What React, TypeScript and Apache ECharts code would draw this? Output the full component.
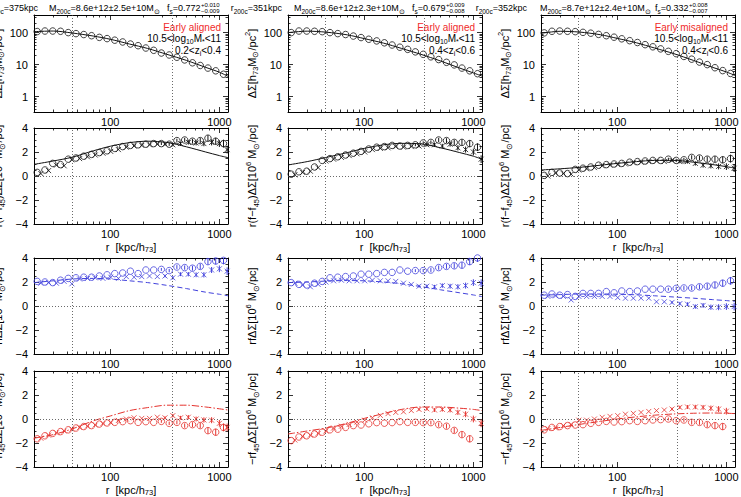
import React, { useEffect, useRef } from 'react';
import * as echarts from 'echarts';

// ---------------- data ----------------
const R_BINS = [21.4, 25.2, 29.7, 35.0, 41.2, 48.5, 57.2, 67.4, 79.4, 93.5, 110, 130, 153, 180, 212, 250, 294, 347, 408, 481, 567, 668, 786, 926, 1091];
const MODEL_R = [20, 30, 45, 70, 100, 150, 220, 330, 500, 750, 1000, 1200];
const X_MAJOR_TICKS = [100, 1000];
const X_MINOR_TICKS = [30, 40, 50, 60, 70, 80, 90, 200, 300, 400, 500, 600, 700, 800, 900];
const Y_LOG_MAJOR = [1, 10, 100];
const Y_LOG_MINOR = [0.4, 0.5, 0.6, 0.7, 0.8, 0.9, 2, 3, 4, 5, 6, 7, 8, 9, 20, 30, 40, 50, 60, 70, 80, 90, 200, 300];
const Y_LIN_MAJOR = [-4, -2, 0, 2, 4];
const Y_LIN_MINOR = [-3.5, -3, -2.5, -1.5, -1, -0.5, 0.5, 1, 1.5, 2.5, 3, 3.5];

const R200 = [375, 351, 352];
const R_INNER = [45, 44, 44];
const M200_TEXT = ['8.6e+12±2.5e+10', '8.6e+12±2.3e+10', '8.7e+12±2.4e+10'];
const FS = ['0.772', '0.679', '0.332'];
const FS_UP = ['0.010', '0.009', '0.008'];
const FS_DN = ['0.009', '0.008', '0.007'];
const SAMPLE_LABEL = ['Early aligned', 'Early aligned', 'Early misaligned'];
const Z_LO = ['0.2', '0.4', '0.4'];
const Z_HI = ['0.4', '0.6', '0.6'];

const ERR = [0.02, 0.02, 0.02, 0.02, 0.02, 0.02, 0.03, 0.03, 0.03, 0.04, 0.04, 0.05, 0.06, 0.07, 0.08, 0.1, 0.12, 0.14, 0.16, 0.18, 0.2, 0.22, 0.25, 0.28, 0.32];

// row 1: Delta Sigma
const SIGMA_CIRC_1 = [108, 112, 112, 110, 100, 93, 87, 80, 71, 65, 58, 51, 44, 39, 33, 28, 23, 20, 17, 14, 11.4, 9.4, 7.8, 6.4, 5.0];
const SIGMA_CIRC_2 = [100, 112, 112, 110, 107, 100, 93, 87, 78, 70, 62, 55, 48, 41, 35, 30, 25, 21, 17.5, 14.4, 11.8, 9.8, 7.8, 6.4, 5.2];
const SIGMA_CIRC_3 = [98, 110, 112, 110, 107, 102, 96, 88, 80, 72, 64, 56, 49, 42, 36, 31, 26, 22, 18, 14.8, 12, 10, 8, 6.5, 5.3];
const SIGMA_MODEL_1 = [107, 112, 97, 78, 62, 44, 32, 21, 13.5, 8.2, 5.8, 4.3];
const SIGMA_MODEL_2 = [100, 111, 103, 85, 65, 47, 32, 21, 13, 7.8, 5.5, 4.4];
const SIGMA_MODEL_3 = [95, 110, 104, 86, 66, 48, 33, 22, 13.5, 8.2, 5.9, 4.6];

// row 2: r(f - f45) Delta Sigma
const FDIFF_CIRC_1 = [0.3, 0.5, 1.05, 0.95, 1.4, 1.5, 1.65, 1.8, 1.95, 2.1, 2.3, 2.45, 2.55, 2.6, 2.65, 2.7, 2.7, 2.65, 2.95, 3.0, 2.9, 2.95, 3.15, 2.9, 2.7];
const FDIFF_CROSS_1 = [0.2, 0.45, 0.9, 0.85, 1.35, 1.45, 1.6, 1.75, 1.9, 2.05, 2.2, 2.4, 2.5, 2.55, 2.6, 2.65, 2.65, 2.6, 2.7, 2.8, 2.75, 2.7, 2.8, 2.7, 2.2];
const FDIFF_MODEL_1 = [0.97, 1.25, 1.57, 2.1, 2.48, 2.78, 2.9, 2.8, 2.43, 2.0, 1.7, 1.53];
const FDIFF_CIRC_2 = [0.15, 0.35, 0.4, 0.75, 1.3, 1.45, 1.6, 1.75, 1.9, 2.05, 2.25, 2.4, 2.45, 2.55, 2.5, 2.55, 2.6, 2.75, 2.8, 3.0, 2.95, 2.8, 2.8, 2.7, 2.4];
const FDIFF_CROSS_2 = [0.1, 0.3, 0.4, 0.7, 1.25, 1.4, 1.55, 1.7, 1.85, 2.0, 2.2, 2.3, 2.35, 2.45, 2.4, 2.45, 2.5, 2.6, 2.6, 2.5, 2.65, 2.35, 2.2, 2.0, 1.4];
const FDIFF_MODEL_2 = [0.92, 1.2, 1.55, 1.95, 2.3, 2.6, 2.72, 2.68, 2.35, 1.95, 1.65, 1.4];
const FDIFF_CIRC_3 = [0.05, 0.3, 0.25, 0.2, 0.55, 0.65, 0.75, 0.9, 0.95, 1.0, 1.05, 1.15, 1.2, 1.25, 1.3, 1.3, 1.4, 1.3, 1.35, 1.55, 1.5, 1.4, 1.4, 1.35, 1.45];
const FDIFF_CROSS_3 = [0.0, 0.25, 0.2, 0.15, 0.5, 0.6, 0.7, 0.85, 0.9, 0.95, 1.0, 1.1, 1.15, 1.2, 1.25, 1.2, 1.3, 1.2, 1.2, 1.05, 0.9, 0.85, 0.8, 0.78, 0.65];
const FDIFF_MODEL_3 = [0.5, 0.6, 0.72, 0.9, 1.05, 1.2, 1.3, 1.3, 1.15, 0.95, 0.78, 0.65];

// row 3: r f Delta Sigma
const FTOT_CIRC_1 = [2.05, 2.0, 1.95, 2.15, 2.3, 2.35, 2.4, 2.4, 2.5, 2.6, 2.7, 2.75, 2.9, 2.7, 3.0, 3.0, 3.05, 2.95, 3.25, 3.2, 3.15, 3.3, 3.7, 3.75, 3.8];
const FTOT_CROSS_1 = [1.9, 1.95, 1.9, 2.05, 1.85, 2.25, 2.3, 2.35, 2.3, 2.4, 2.3, 2.45, 2.4, 2.45, 2.5, 2.45, 2.5, 2.35, 2.65, 2.65, 2.6, 2.6, 3.0, 3.1, 2.9];
const FTOT_MODEL_1 = [1.95, 2.1, 2.25, 2.3, 2.25, 2.1, 1.95, 1.72, 1.45, 1.15, 0.98, 0.85];
const FTOT_CIRC_2 = [1.95, 1.8, 1.75, 1.9, 2.05, 2.35, 2.4, 2.45, 2.5, 2.65, 2.65, 2.7, 2.8, 2.8, 3.0, 2.9, 2.95, 2.95, 3.0, 3.2, 3.3, 3.35, 3.4, 3.7, 4.0];
const FTOT_CROSS_2 = [1.9, 1.75, 1.6, 1.8, 2.0, 2.1, 2.15, 2.1, 2.1, 2.1, 2.15, 2.1, 2.1, 2.05, 1.9, 1.8, 1.65, 1.65, 1.6, 1.7, 1.65, 1.6, 1.7, 1.95, 1.9];
const FTOT_MODEL_2 = [1.95, 2.0, 2.08, 2.12, 2.1, 2.0, 1.85, 1.62, 1.35, 1.1, 0.92, 0.78];
const FTOT_CIRC_3 = [0.9, 1.0, 0.9, 0.95, 0.8, 1.05, 1.05, 1.05, 1.2, 1.1, 1.25, 1.2, 1.25, 1.4, 1.4, 1.4, 1.4, 1.47, 1.5, 1.5, 1.6, 1.65, 1.75, 1.9, 2.1];
const FTOT_CROSS_3 = [0.8, 0.85, 0.8, 0.5, 0.8, 0.8, 0.8, 0.8, 0.8, 0.7, 0.65, 0.65, 0.65, 0.65, 0.35, 0.35, 0.3, 0.2, 0.15, -0.05, 0.05, -0.1, -0.1, -0.05, -0.05];
const FTOT_MODEL_3 = [0.9, 0.95, 1.0, 1.0, 0.98, 0.93, 0.85, 0.75, 0.65, 0.53, 0.45, 0.38];

// row 4: -r f45 Delta Sigma
const F45_CIRC_1 = [-1.65, -1.4, -1.2, -1.05, -0.9, -0.75, -0.63, -0.55, -0.42, -0.33, -0.28, -0.22, -0.14, -0.28, -0.22, -0.28, -0.2, -0.36, -0.28, -0.55, -0.47, -0.55, -0.97, -1.1, -0.7];
const F45_CROSS_1 = [-1.6, -1.35, -1.15, -1.0, -0.85, -0.7, -0.6, -0.5, -0.38, -0.3, -0.12, 0.0, 0.1, 0.05, 0.05, 0.15, 0.1, 0.28, 0.1, 0.15, 0.0, -0.08, -0.1, -0.36, -0.7];
const F45_MODEL_1 = [-1.6, -1.3, -0.82, -0.15, 0.25, 0.7, 0.95, 1.15, 1.15, 1.0, 0.85, 0.75];
const F45_CIRC_2 = [-1.8, -1.5, -1.4, -1.25, -1.1, -0.9, -0.85, -0.7, -0.55, -0.5, -0.4, -0.3, -0.35, -0.3, -0.22, -0.28, -0.28, -0.3, -0.3, -0.47, -0.6, -0.95, -1.3, -1.65, null];
const F45_CROSS_2 = [-1.75, -1.45, -1.35, -1.2, -1.0, -0.75, -0.6, -0.45, -0.25, -0.1, 0.1, 0.3, 0.45, 0.55, 0.6, 0.7, 0.8, 0.85, 0.75, 0.8, 0.75, 0.55, 0.4, 0.0, -0.36];
const F45_MODEL_2 = [-1.25, -1.0, -0.75, -0.35, 0.05, 0.45, 0.8, 1.0, 1.0, 0.9, 0.8, 0.7];
const F45_CIRC_3 = [-0.9, -0.7, -0.63, -0.55, -0.5, -0.47, -0.36, -0.28, -0.2, -0.25, -0.22, -0.14, -0.2, -0.14, -0.08, -0.05, 0.0, -0.14, -0.08, -0.28, -0.28, -0.47, -0.55, -0.63, null];
const F45_CROSS_3 = [-0.8, -0.75, -0.55, -0.45, -0.1, -0.1, 0.0, 0.14, 0.22, 0.28, 0.4, 0.47, 0.55, 0.63, 0.7, 0.75, 0.83, 0.97, 1.0, 1.0, 0.97, 0.9, 0.83, 0.65, null];
const F45_MODEL_3 = [-0.95, -0.7, -0.45, -0.2, 0.0, 0.18, 0.32, 0.42, 0.48, 0.5, 0.48, 0.45];

const CIRCLES: (number | null)[][][] = [
  [SIGMA_CIRC_1, SIGMA_CIRC_2, SIGMA_CIRC_3],
  [FDIFF_CIRC_1, FDIFF_CIRC_2, FDIFF_CIRC_3],
  [FTOT_CIRC_1, FTOT_CIRC_2, FTOT_CIRC_3],
  [F45_CIRC_1, F45_CIRC_2, F45_CIRC_3],
];
const CROSSES: ((number | null)[][] | null)[] = [
  null,
  [FDIFF_CROSS_1, FDIFF_CROSS_2, FDIFF_CROSS_3],
  [FTOT_CROSS_1, FTOT_CROSS_2, FTOT_CROSS_3],
  [F45_CROSS_1, F45_CROSS_2, F45_CROSS_3],
];
const MODELS: number[][][] = [
  [SIGMA_MODEL_1, SIGMA_MODEL_2, SIGMA_MODEL_3],
  [FDIFF_MODEL_1, FDIFF_MODEL_2, FDIFF_MODEL_3],
  [FTOT_MODEL_1, FTOT_MODEL_2, FTOT_MODEL_3],
  [F45_MODEL_1, F45_MODEL_2, F45_MODEL_3],
];

const Y_NAMES = [
  'ΔΣ[h{s|73}M{s|⊙}/pc{p|2}]',
  'r(f−f{s|45})ΔΣ[10{p|6} M{s|⊙}/pc]',
  'rfΔΣ[10{p|6} M{s|⊙}/pc]',
  '−rf{s|45}ΔΣ[10{p|6} M{s|⊙}/pc]',
];
const X_NAME = 'r  [kpc/h{s|73}]';

// ---------------- style / layout ----------------
const FONT = '"Liberation Sans", Arial, Helvetica, sans-serif';
const BLACK = '#111111';
const BLUE = '#4141dc';
const RED = '#e5332e';
const LEGEND_RED = '#f02a2a';
const ROW_COLORS = [BLACK, BLACK, BLUE, RED];
const ROW_LINE_TYPES: any[] = ['solid', 'solid', [5, 3], [7, 2, 1.5, 2]];
const COL_LEFT = [34, 288, 541];
const COL_W = 194;
const ROW_TOP = [15, 128, 258, 371];
const ROW_H = [97, 96, 96, 96];
const CROSS_SHIFT = 1.08;

const lg = (v: number) => Math.log10(v);
const XMIN = lg(20);
const XMAX = lg(1200);
const YLOG_MIN = -0.48;
const YLOG_MAX = 2.55;

const richAxis = {
  s: { fontSize: 7.5, lineHeight: 8, verticalAlign: 'bottom', fontFamily: FONT, color: '#000' },
  p: { fontSize: 7.5, lineHeight: 8, verticalAlign: 'top', fontFamily: FONT, color: '#000' },
};

function mkX(g: number, pos: string, major: boolean, label: boolean, name: string) {
  return {
    type: 'value', gridIndex: g, position: pos, min: XMIN, max: XMAX,
    axisLine: { show: major, onZero: false, lineStyle: { color: '#000', width: 1 } },
    axisTick: {
      show: true, inside: true, length: major ? 5 : 2.5,
      customValues: (major ? X_MAJOR_TICKS : X_MINOR_TICKS).map(lg),
      lineStyle: { color: '#000', width: 0.8 },
    },
    axisLabel: {
      show: label, customValues: X_MAJOR_TICKS.map(lg),
      formatter: (v: number) => String(Math.round(Math.pow(10, v))),
      margin: 4, color: '#000', fontSize: 11, fontFamily: FONT,
    },
    splitLine: { show: false },
    name, nameLocation: 'middle', nameGap: 14,
    nameTextStyle: { fontSize: 11, lineHeight: 14, color: '#000', fontFamily: FONT, rich: richAxis },
  };
}

function mkY(g: number, pos: string, major: boolean, label: boolean, name: string, isLog: boolean) {
  const majorVals = isLog ? Y_LOG_MAJOR.map(lg) : Y_LIN_MAJOR;
  const minorVals = isLog ? Y_LOG_MINOR.map(lg) : Y_LIN_MINOR;
  return {
    type: 'value', gridIndex: g, position: pos,
    min: isLog ? YLOG_MIN : -4, max: isLog ? YLOG_MAX : 4,
    axisLine: { show: major, onZero: false, lineStyle: { color: '#000', width: 1 } },
    axisTick: {
      show: true, inside: true, length: major ? 5 : 2.5,
      customValues: major ? majorVals : minorVals,
      lineStyle: { color: '#000', width: 0.8 },
    },
    axisLabel: {
      show: label, customValues: majorVals,
      formatter: isLog
        ? (v: number) => String(Math.round(Math.pow(10, v)))
        : (v: number) => (v < 0 ? '−' + Math.abs(v) : String(v)),
      margin: 6, color: '#000', fontSize: 11, fontFamily: FONT,
    },
    splitLine: { show: false },
    name, nameLocation: 'middle', nameGap: 28, nameRotate: 90,
    nameTextStyle: { fontSize: 11, lineHeight: 16, color: '#000', fontFamily: FONT, rich: richAxis },
  };
}

function buildOption() {
  const grids: any[] = [];
  const xAxes: any[] = [];
  const yAxes: any[] = [];
  const series: any[] = [];
  const graphic: any[] = [];

  for (let r = 0; r < 4; r++) {
    for (let c = 0; c < 3; c++) {
      const g = r * 3 + c;
      grids.push({ left: COL_LEFT[c], top: ROW_TOP[r], width: COL_W, height: ROW_H[r], containLabel: false, outerBoundsMode: 'none', show: false });
      const xName = r === 1 || r === 3 ? X_NAME : '';
      xAxes.push(mkX(g, 'bottom', true, true, xName));
      xAxes.push(mkX(g, 'bottom', false, false, ''));
      xAxes.push(mkX(g, 'top', true, false, ''));
      xAxes.push(mkX(g, 'top', false, false, ''));
      const isLog = r === 0;
      yAxes.push(mkY(g, 'left', true, true, Y_NAMES[r], isLog));
      yAxes.push(mkY(g, 'left', false, false, '', isLog));
      yAxes.push(mkY(g, 'right', true, false, '', isLog));
      yAxes.push(mkY(g, 'right', false, false, '', isLog));

      const ai = g * 4;
      const color = ROW_COLORS[r];
      const toY = (v: number) => (isLog ? lg(v) : v);
      const refLines: any[] = [{ xAxis: lg(R_INNER[c]) }, { xAxis: lg(R200[c]) }];
      if (r > 0) refLines.push({ yAxis: 0 });

      series.push({
        type: 'line', xAxisIndex: ai, yAxisIndex: ai, silent: true, z: 2,
        data: MODEL_R.map((x, i) => [lg(x), toY(MODELS[r][c][i])]),
        smooth: 0.3, symbol: 'none', showSymbol: false,
        lineStyle: { color, width: 1, type: ROW_LINE_TYPES[r] },
        markLine: {
          silent: true, symbol: ['none', 'none'], label: { show: false },
          lineStyle: { color: '#444', width: 0.8, type: [1, 2] },
          emphasis: { disabled: true },
          data: refLines,
        },
      });

      const circ = CIRCLES[r][c];
      const circData: number[][] = [];
      const errData: number[][] = [];
      circ.forEach((v, i) => {
        if (v == null) return;
        circData.push([lg(R_BINS[i]), toY(v)]);
        if (r > 0) errData.push([lg(R_BINS[i]), v - ERR[i], v + ERR[i]]);
      });
      series.push({
        type: 'scatter', xAxisIndex: ai, yAxisIndex: ai, silent: true, z: 4,
        symbol: 'circle', symbolSize: 6.5,
        itemStyle: { color: 'rgba(0,0,0,0)', borderColor: color, borderWidth: 1 },
        data: circData,
      });

      const crossSet = CROSSES[r];
      if (crossSet) {
        const cr = crossSet[c];
        const crossData: number[][] = [];
        cr.forEach((v, i) => {
          if (v == null) return;
          const x = lg(R_BINS[i] * CROSS_SHIFT);
          crossData.push([x, v]);
          errData.push([x, v - ERR[i], v + ERR[i]]);
        });
        series.push({
          type: 'scatter', xAxisIndex: ai, yAxisIndex: ai, silent: true, z: 4,
          symbol: 'path://M0,0L10,10M10,0L0,10', symbolSize: 5,
          itemStyle: { color: 'rgba(0,0,0,0)', borderColor: color, borderWidth: 1 },
          data: crossData,
        });
        series.push({
          type: 'custom', xAxisIndex: ai, yAxisIndex: ai, silent: true, z: 3, clip: true,
          data: errData,
          encode: { x: 0, y: [1, 2] },
          renderItem: (_p: any, api: any) => {
            const x = api.value(0);
            const a = api.coord([x, api.value(1)]);
            const b = api.coord([x, api.value(2)]);
            if (Math.abs(a[1] - b[1]) < 2.5) return null;
            return {
              type: 'line',
              shape: { x1: a[0], y1: a[1], x2: b[0], y2: b[1] },
              style: { stroke: color, lineWidth: 1 },
            };
          },
        });
      }
    }
  }

  // titles above the columns and labels inside the top panels
  const titleRich = {
    s: { fontSize: 6.5, lineHeight: 7, verticalAlign: 'bottom', fontFamily: FONT, fill: '#000', color: '#000' },
  };
  const legendRich = {
    s: { fontSize: 7, lineHeight: 7, verticalAlign: 'bottom', fontFamily: FONT, fill: '#000', color: '#000' },
  };
  const txt = (x: number, y: number, text: string, size: number, align: string, fill: string, rich: any, lh: number) => ({
    type: 'text', x, y, silent: true,
    style: {
      text, fontSize: size, fontFamily: FONT, fill, lineHeight: lh, rich,
      align, textAlign: align, verticalAlign: 'middle', textVerticalAlign: 'middle',
    },
  });
  const R_TITLE_RIGHT = [38, 282, 527];
  const M_TITLE_LEFT = [49, 294, 540];
  const F_TITLE_LEFT = [167, 412, 655];
  for (let c = 0; c < 3; c++) {
    graphic.push(txt(R_TITLE_RIGHT[c], 8, `r{s|200c}=${R200[c]}kpc`, 9, 'right', '#000', titleRich, 13));
    graphic.push(txt(M_TITLE_LEFT[c], 8, `M{s|200c}=${M200_TEXT[c]}M{s|⊙}`, 9, 'left', '#000', titleRich, 13));
    graphic.push(txt(F_TITLE_LEFT[c], 8, `f{s|s}=${FS[c]}`, 9, 'left', '#000', titleRich, 13));
    graphic.push(txt(F_TITLE_LEFT[c] + 34, 5, `+${FS_UP[c]}`, 6, 'left', '#000', null, 7));
    graphic.push(txt(F_TITLE_LEFT[c] + 34, 11, `−${FS_DN[c]}`, 6, 'left', '#000', null, 7));

    const right = COL_LEFT[c] + COL_W - 7;
    graphic.push(txt(right, 27, SAMPLE_LABEL[c], 10, 'right', LEGEND_RED, null, 12));
    graphic.push(txt(right, 38.5, '10.5<log{s|10}M{s|*}<11', 10, 'right', '#000', legendRich, 13));
    graphic.push(txt(right, 50, `${Z_LO[c]}<z{s|i}<${Z_HI[c]}`, 10, 'right', '#000', legendRich, 13));
  }

  return {
    animation: false,
    backgroundColor: '#ffffff',
    textStyle: { fontFamily: FONT },
    grid: grids,
    xAxis: xAxes,
    yAxis: yAxes,
    series,
    graphic,
  };
}

export default function App() {
  const ref = useRef<HTMLDivElement>(null);
  useEffect(() => {
    if (!ref.current) return;
    const chart = echarts.init(ref.current, undefined, { renderer: 'svg' });
    chart.setOption(buildOption() as any);
    return () => chart.dispose();
  }, []);
  return (
    <div
      ref={ref}
      style={{ position: 'absolute', left: 0, top: 0, width: 741, height: 497, background: '#fff' }}
    />
  );
}
